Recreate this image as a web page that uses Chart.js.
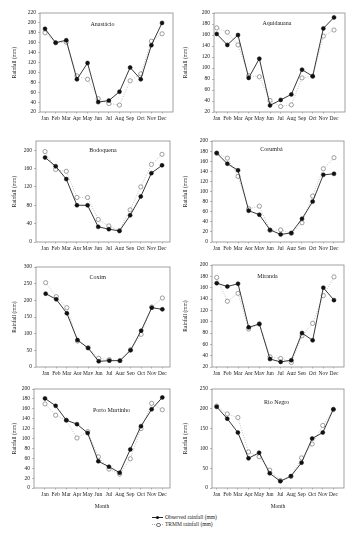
<!DOCTYPE html>
<html>
<head>
<meta charset="utf-8">
<script src="https://cdn.jsdelivr.net/npm/chart.js@4.4.1/dist/chart.umd.min.js"></script>
<style>
  body { margin: 0; background: #fff; }
  #wrap { position: relative; width: 360px; height: 534px; overflow: hidden; background: #fff; }
  canvas { position: absolute; }
  .leg { position: absolute; font-family: 'Liberation Serif', serif; font-size: 5.5px; color: #222; white-space: nowrap; }
  .leg span.mk { display: inline-block; position: relative; width: 11px; height: 5px; vertical-align: middle; margin-right: 2px; }
  .mk .ln { position: absolute; left: 0; right: 0; top: 2px; border-top: 0.8px solid #222; }
  .mk .ln.dot { border-top: 0.8px dotted #aaa; }
  .mk .pt { position: absolute; left: 4px; top: 0.5px; width: 3px; height: 3px; border-radius: 50%; background: #111; }
  .mk .pt.open { background: #fff; border: 0.7px solid #777; width: 2.6px; height: 2.6px; top: 0.5px; }
</style>
</head>
<body>
<div id="wrap">
  <canvas id="c1"></canvas><canvas id="c2"></canvas>
  <canvas id="c3"></canvas><canvas id="c4"></canvas>
  <canvas id="c5"></canvas><canvas id="c6"></canvas>
  <canvas id="c7"></canvas><canvas id="c8"></canvas>
  <div class="leg" style="left:152px; top:514px;"><span class="mk"><span class="ln"></span><span class="pt"></span></span>Observed rainfall (mm)</div>
  <div class="leg" style="left:152px; top:521px;"><span class="mk"><span class="ln dot"></span><span class="pt open"></span></span>TRMM rainfall (mm)</div>
</div>
<script>
// dados (mm)
const months = ['Jan', 'Feb', 'Mar', 'Apr', 'May', 'Jun', 'Jul', 'Aug', 'Sep', 'Oct', 'Nov', 'Dec'];

const anastacioObs  = [188, 160, 165, 86, 119, 40, 43, 61, 110, 86, 155, 200];
const anastacioTrmm = [180, 160, 161, 93, 86, 47, 37, 34, 83, 97, 163, 178];

const aquidauanaObs  = [162, 142, 160, 82, 117, 32, 42, 52, 97, 85, 172, 192];
const aquidauanaTrmm = [173, 165, 142, 86, 84, 41, 30, 33, 82, 85, 158, 169];

const bodoquenaObs  = [184, 165, 137, 80, 80, 33, 28, 24, 58, 99, 150, 167];
const bodoquenaTrmm = [197, 158, 154, 97, 97, 49, 35, 25, 70, 120, 169, 191];

const corumbaObs  = [176, 155, 142, 62, 54, 24, 15, 18, 46, 80, 133, 135];
const corumbaTrmm = [176, 166, 130, 66, 71, 23, 24, 17, 38, 91, 145, 167];

const coximObs  = [220, 203, 161, 81, 57, 17, 19, 19, 50, 109, 178, 173];
const coximTrmm = [253, 211, 178, 78, 58, 26, 22, 19, 52, 98, 180, 207];

const mirandaObs  = [168, 162, 167, 90, 96, 34, 29, 32, 80, 67, 160, 138];
const mirandaTrmm = [178, 136, 150, 87, 96, 38, 35, 28, 75, 97, 146, 179];

const portoObs  = [181, 166, 137, 129, 111, 54, 43, 31, 78, 125, 159, 183];
const portoTrmm = [170, 147, 137, 101, 114, 63, 38, 28, 59, 120, 171, 158];

const rioNegroObs  = [205, 175, 140, 75, 89, 37, 17, 30, 64, 125, 140, 199];
const rioNegroTrmm = [207, 187, 178, 91, 79, 45, 19, 29, 76, 111, 158, 198];

// escalas de cada painel: [min, max, passo]
const anastacioAxis  = [20, 220, 20];
const aquidauanaAxis = [20, 200, 20];
const bodoquenaAxis  = [0, 220, 20];
const corumbaAxis    = [0, 200, 20];
const coximAxis      = [0, 300, 50];
const mirandaAxis    = [20, 200, 20];
const portoAxis      = [0, 200, 20];
const rioNegroAxis   = [0, 250, 50];

const FONT = "'Liberation Serif', 'DejaVu Serif', serif";
Chart.defaults.font.family = FONT;
Chart.defaults.color = '#222';

// plugin: moldura + nome da estação
const molduraPlugin = {
    id: 'moldura',
    afterDraw(chart) {
        const { ctx, chartArea: a } = chart;
        const o = chart.options.plugins.moldura;
        ctx.save();
        ctx.strokeStyle = '#8a8a8a';
        ctx.lineWidth = 0.8;
        ctx.strokeRect(a.left, a.top, a.right - a.left, a.bottom - a.top);
        ctx.fillStyle = '#222';
        ctx.font = '6px ' + FONT;
        ctx.textAlign = 'center';
        ctx.textBaseline = 'middle';
        ctx.fillText(o.nome, a.left + o.tx * (a.right - a.left), a.top + o.ty);
        ctx.restore();
    }
};

function toPts(arr) {
    return arr.map((v, i) => ({ x: i, y: v }));
}

function criaPainel(id, nome, obs, trmm, eixo, box) {
    const cv = document.getElementById(id);
    cv.width = box.w; cv.height = box.h;
    cv.style.left = box.x + 'px'; cv.style.top = box.y + 'px';
    cv.style.width = box.w + 'px'; cv.style.height = box.h + 'px';

    return new Chart(cv, {
        type: 'line',
        data: {
            datasets: [{
                label: 'Observed rainfall (mm)',
                data: toPts(obs),
                borderColor: '#222',
                borderWidth: 0.9,
                pointRadius: 2,
                pointBackgroundColor: '#111',
                pointBorderColor: '#111',
                pointBorderWidth: 0.5,
                tension: 0
            }, {
                label: 'TRMM rainfall (mm)',
                data: toPts(trmm),
                borderColor: '#b0b0b0',
                borderWidth: 0.8,
                borderDash: [1, 1.5],
                pointRadius: 2.1,
                pointBackgroundColor: '#fff',
                pointBorderColor: '#777',
                pointBorderWidth: 0.7,
                tension: 0
            }]
        },
        options: {
            responsive: false,
            animation: false,
            devicePixelRatio: 1,
            clip: false,
            layout: {
                padding: { left: box.padL, right: box.w - box.ar, top: box.at, bottom: 0 }
            },
            plugins: {
                legend: { display: false },
                tooltip: { enabled: false },
                moldura: { nome: nome, tx: box.tx, ty: box.ty }
            },
            scales: {
                x: {
                    type: 'linear',
                    min: box.xmin,
                    max: box.xmax,
                    afterBuildTicks: (s) => { s.ticks = months.map((m, i) => ({ value: i })); },
                    afterFit: (s) => { s.height = box.h - box.ab; },
                    ticks: {
                        callback: (v) => months[v],
                        font: { size: 5.5 },
                        padding: 1.5,
                        maxRotation: 0,
                        autoSkip: false
                    },
                    grid: { drawOnChartArea: false, drawTicks: true, tickLength: 1.5, color: '#8a8a8a', lineWidth: 0.6 },
                    border: { display: false },
                    title: {
                        display: !!box.month,
                        text: 'Month',
                        font: { size: 5.5 },
                        padding: { top: 0, bottom: 2 }
                    }
                },
                y: {
                    min: eixo[0],
                    max: eixo[1],
                    afterFit: (s) => { s.width = box.al - box.padL; },
                    ticks: { stepSize: eixo[2], font: { size: 5.5 }, padding: 2 },
                    grid: { drawOnChartArea: false, drawTicks: true, tickLength: 2, color: '#8a8a8a', lineWidth: 0.6 },
                    border: { display: false },
                    title: {
                        display: true,
                        text: 'Rainfall (mm)',
                        font: { size: 5.5 },
                        padding: 0
                    }
                }
            }
        },
        plugins: [molduraPlugin]
    });
}

// posição de cada painel (canvas + área do gráfico)
criaPainel('c1', 'Anastácio', anastacioObs, anastacioTrmm, anastacioAxis,
    { x: 0, y: 0, w: 180, h: 125, al: 40, ar: 173, at: 13, ab: 112, padL: 11.7, xmin: -0.47, xmax: 12.03, tx: 0.47, ty: 11 });
criaPainel('c2', 'Aquidauana', aquidauanaObs, aquidauanaTrmm, aquidauanaAxis,
    { x: 180, y: 0, w: 180, h: 125, al: 34, ar: 165, at: 13, ab: 112, padL: 2.7, xmin: -0.25, xmax: 12.03, tx: 0.48, ty: 10 });
criaPainel('c3', 'Bodoquena', bodoquenaObs, bodoquenaTrmm, bodoquenaAxis,
    { x: 0, y: 125, w: 180, h: 125, al: 36, ar: 170, at: 16, ab: 117, padL: 11.7, xmin: -0.85, xmax: 11.75, tx: 0.5, ty: 9 });
criaPainel('c4', 'Corumbá', corumbaObs, corumbaTrmm, corumbaAxis,
    { x: 180, y: 125, w: 180, h: 125, al: 32, ar: 164, at: 16, ab: 117, padL: 2.7, xmin: -0.44, xmax: 11.94, tx: 0.45, ty: 8 });
criaPainel('c5', 'Coxim', coximObs, coximTrmm, coximAxis,
    { x: 0, y: 250, w: 180, h: 125, al: 36, ar: 170, at: 17, ab: 117, padL: 11.7, xmin: -0.91, xmax: 11.72, tx: 0.46, ty: 10 });
criaPainel('c6', 'Miranda', mirandaObs, mirandaTrmm, mirandaAxis,
    { x: 180, y: 250, w: 180, h: 125, al: 32, ar: 164, at: 15, ab: 117, padL: 2.7, xmin: -0.44, xmax: 11.94, tx: 0.42, ty: 11 });
criaPainel('c7', 'Porto Murtinho', portoObs, portoTrmm, portoAxis,
    { x: 0, y: 375, w: 180, h: 137, al: 34, ar: 170, at: 14, ab: 113, padL: 11.7, xmin: -1.03, xmax: 11.72, tx: 0.57, ty: 21, month: true });
criaPainel('c8', 'Rio Negro', rioNegroObs, rioNegroTrmm, rioNegroAxis,
    { x: 180, y: 375, w: 180, h: 137, al: 32, ar: 164, at: 14, ab: 113, padL: 2.7, xmin: -0.44, xmax: 12.0, tx: 0.49, ty: 13, month: true });
</script>
</body>
</html>
